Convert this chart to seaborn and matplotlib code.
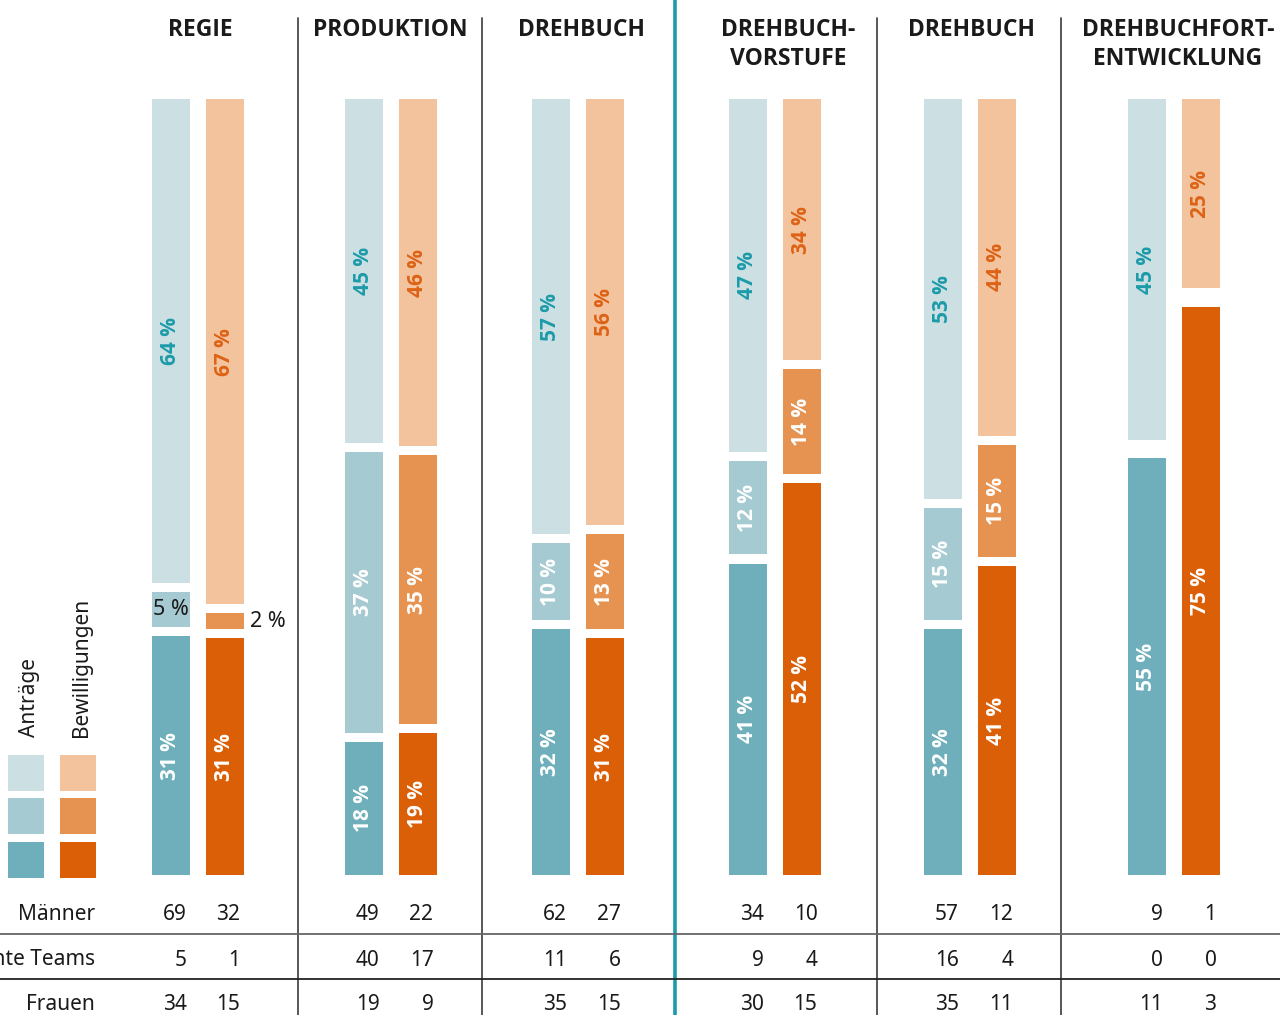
import numpy as np
import seaborn as sns
import matplotlib.pyplot as plt
from matplotlib.patches import Rectangle

# Spaltenköpfe und Tabellenzeilen
groups = ["REGIE", "PRODUKTION", "DREHBUCH", "DREHBUCH-\nVORSTUFE",
          "DREHBUCH", "DREHBUCHFORT-\nENTWICKLUNG"]
row_labels = ["Männer", "gemischte Teams", "Frauen"]
series = ["Anträge", "Bewilligungen"]

# Anzahlen (Tabelle unten)
antraege_maenner = [69, 49, 62, 34, 57, 9]
antraege_gemischt = [5, 40, 11, 9, 16, 0]
antraege_frauen = [34, 19, 35, 30, 35, 11]
bewill_maenner = [32, 22, 27, 10, 12, 1]
bewill_gemischt = [1, 17, 6, 4, 4, 0]
bewill_frauen = [15, 9, 15, 15, 11, 3]

# Farben: Frauen (dunkel), gemischt (mittel), Männer (hell)
colors = {"Anträge": ["#6EAFBB", "#A6CAD2", "#CCE0E4"],
          "Bewilligungen": ["#DB5F07", "#E69352", "#F3C39E"]}
light_text = {"Anträge": "#1C9BA9", "Bewilligungen": "#DD6215"}
dark = "#1a1a1a"
bold_font = ["Open Sans", "DejaVu Sans"]

# Layout (Pixel)
W, H = 1280, 1015
group_mid = [197.5, 390.5, 578, 774.5, 970, 1173.5]
header_x = [200, 390, 581, 788, 972, 1178]
bar_off, bar_w = 27, 38
gap = 1.2
sep_x = [298, 482, 877, 1061]
accent_x = 675
y_base, y_top = 875, 99
row_y = [914, 960, 1005]

sns.set_theme(style="white")
plt.rcParams["font.family"] = ["Noto Sans", "DejaVu Sans"]

fig = plt.figure(figsize=(12.8, 10.15), dpi=100)
ax = fig.add_axes([0, (H - y_base) / H, 1, (y_base - y_top) / H])
ov = fig.add_axes([0, 0, 1, 1])
ov.set_xlim(0, W)
ov.set_ylim(H, 0)
ov.axis("off")

counts = {"Anträge": [antraege_frauen, antraege_gemischt, antraege_maenner],
          "Bewilligungen": [bewill_frauen, bewill_gemischt, bewill_maenner]}
step = np.min(np.diff(group_mid))

for t, name in enumerate(series):
    c = np.array(counts[name], dtype=float)
    shares = c / c.sum(axis=0) * 100
    xs = np.array(group_mid) + (2 * t - 1) * bar_off
    bottom = np.zeros(len(groups))
    for k in range(3):
        base = bottom + k * gap
        sns.barplot(x=xs, y=shares[k], bottom=base, native_scale=True,
                    width=bar_w / step, color=colors[name][k], saturation=1,
                    errorbar=None, linewidth=0, edgecolor="none", ax=ax)
        for i, s in enumerate(shares[k]):
            if s == 0:
                continue
            yc = base[i] + s / 2
            lab = f"{int(np.floor(s + 0.5))} %"
            if s < 3:
                ax.text(xs[i] + bar_w / 2 + 6, yc, lab, ha="left", va="center",
                        fontsize=15.5, color=dark)
            elif s < 8:
                ax.text(xs[i], yc, lab, ha="center", va="center",
                        fontsize=15.5, color=dark)
            else:
                col = light_text[name] if k == 2 else "white"
                ax.text(xs[i], yc, lab, ha="center", va="center", rotation=90,
                        fontsize=15, fontweight="bold", family=bold_font,
                        color=col)
        bottom += shares[k]

ax.set_xlim(0, W)
ax.set_ylim(0, 100 + 2 * gap)
ax.axis("off")

# Spaltenköpfe
for x, g in zip(header_x, groups):
    for j, line in enumerate(g.split("\n")):
        ov.text(x, 36 + 28.5 * j, line, ha="center", va="baseline",
                fontsize=16.5, fontweight="bold", family=bold_font, color=dark)

# Trennlinien
for x in sep_x:
    ov.plot([x, x], [18, H], color="#4a4a4a", lw=1.3)
ov.plot([accent_x, accent_x], [0, H], color="#1B9BAA", lw=2.6)
ov.plot([0, W], [933.5, 933.5], color="#666666", lw=1.3)
ov.plot([0, W], [978.5, 978.5], color="#222222", lw=1.3)

# Tabelle
table = {"Anträge": [antraege_maenner, antraege_gemischt, antraege_frauen],
         "Bewilligungen": [bewill_maenner, bewill_gemischt, bewill_frauen]}
for r, (lab, y) in enumerate(zip(row_labels, row_y)):
    ov.text(95, y, lab, ha="right", va="center", fontsize=15, color=dark)
    for t, name in enumerate(series):
        for i, gx in enumerate(group_mid):
            ov.text(gx + (2 * t - 1) * bar_off + 16, y, str(table[name][r][i]),
                    ha="right", va="center", fontsize=15, color=dark)

# Legende
for t, name in enumerate(series):
    lx = 8 + 52 * t
    for k, top in enumerate([755, 798, 842]):
        ov.add_patch(Rectangle((lx, top), 36, 36, color=colors[name][2 - k], lw=0))
    ov.text(lx + 22, 737, name, rotation=90, ha="center", va="bottom",
            fontsize=15, color=dark)

fig.savefig("out.png", dpi=100)
